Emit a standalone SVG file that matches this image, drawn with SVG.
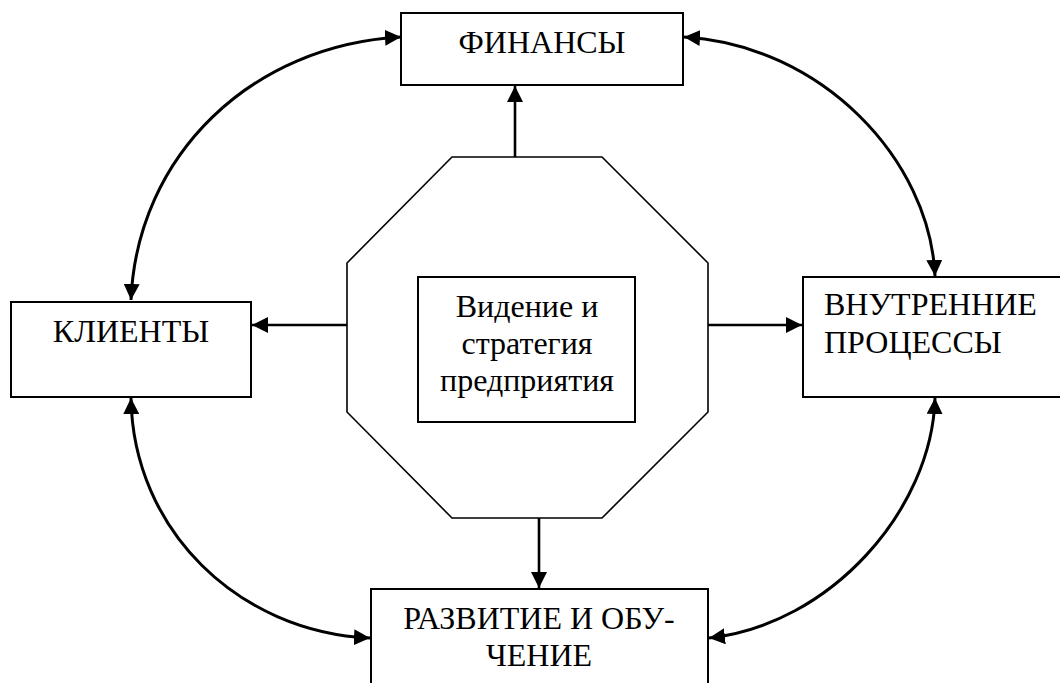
<svg xmlns="http://www.w3.org/2000/svg" width="1060" height="683" viewBox="0 0 1060 683">
<style>
.box{fill:#fff;stroke:#000;stroke-width:2}
.oct{fill:#fff;stroke:#000;stroke-width:1.6}
.t{font-family:"Liberation Serif","Times New Roman",serif;font-size:32px;fill:#000}
.c{text-anchor:middle}
.ln{fill:none;stroke:#000;stroke-width:2.6}
.cv{fill:none;stroke:#000;stroke-width:3}
</style>
<defs>
<marker id="ah" markerUnits="userSpaceOnUse" markerWidth="16" markerHeight="16" viewBox="0 0 16 16" refX="16" refY="8" orient="auto-start-reverse">
<path d="M0,0 L16,8 L0,16 Z" fill="#000"/>
</marker>
</defs>
<rect width="1060" height="683" fill="#fff"/>
<g id="strategy">
<polygon class="oct" points="452,157 602,157 708,263 708,412 602,518 452,518 347,412 347,263"/>
<rect class="box" x="418" y="277" width="217" height="145" stroke-width="1.6"/>
<text class="t c" x="527" y="317">Видение и</text>
<text class="t c" x="527" y="354">стратегия</text>
<text class="t c" x="527" y="391">предприятия</text>
</g>
<g id="finance">
<rect class="box" x="401" y="13" width="282" height="72"/>
<text class="t c" x="542" y="53">ФИНАНСЫ</text>
</g>
<g id="clients">
<rect class="box" x="11" y="302" width="240" height="95"/>
<text class="t c" x="131" y="342">КЛИЕНТЫ</text>
</g>
<g id="processes">
<rect class="box" x="803" y="277" width="270" height="120"/>
<text class="t" x="824" y="315">ВНУТРЕННИЕ</text>
<text class="t" x="824" y="353">ПРОЦЕССЫ</text>
</g>
<g id="learning">
<rect class="box" x="371" y="589" width="337" height="110"/>
<text class="t c" x="539" y="629">РАЗВИТИЕ И ОБУ-</text>
<text class="t c" x="539" y="666">ЧЕНИЕ</text>
</g>
<g id="connectors">
<line class="ln" x1="515" y1="157" x2="515" y2="86" marker-end="url(#ah)"/>
<line class="ln" x1="347" y1="325" x2="252" y2="325" marker-end="url(#ah)"/>
<line class="ln" x1="708" y1="325" x2="802" y2="325" marker-end="url(#ah)"/>
<line class="ln" x1="539" y1="518" x2="539" y2="588" marker-end="url(#ah)"/>
<path class="cv" d="M131,300 C137,155 252,45 401,37" marker-start="url(#ah)" marker-end="url(#ah)"/>
<path class="cv" d="M684,37 C822,45 930,160 935,276" marker-start="url(#ah)" marker-end="url(#ah)"/>
<path class="cv" d="M131,398 C133,530 238,632 370,638" marker-start="url(#ah)" marker-end="url(#ah)"/>
<path class="cv" d="M935,398 C932,510 830,625 709,638" marker-start="url(#ah)" marker-end="url(#ah)"/>
</g>
</svg>
